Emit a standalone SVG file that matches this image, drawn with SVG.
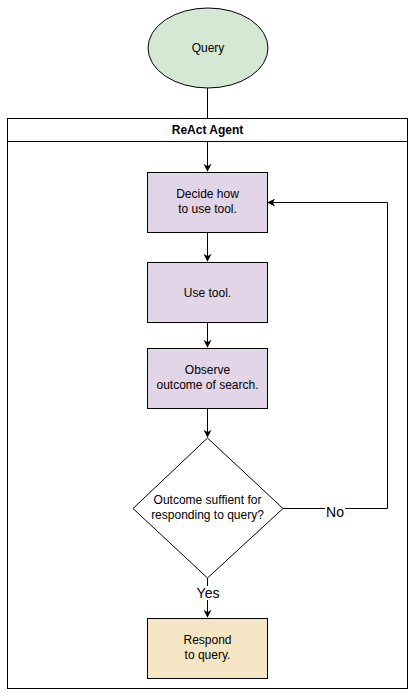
<svg xmlns="http://www.w3.org/2000/svg" width="415" height="696" viewBox="0 0 415 696">
<style>
text{font-family:"Liberation Sans",Arial,sans-serif;font-size:12px;fill:#000;text-anchor:middle}
.b{font-weight:bold}
.lbl{font-size:14px}
.n{stroke:#000;stroke-width:1}
.c{fill:none;stroke:#000;stroke-width:1}
</style>
<defs>
<marker id="a" viewBox="0 0 10 10" refX="9" refY="5" markerWidth="8" markerHeight="8" markerUnits="userSpaceOnUse" orient="auto">
<path d="M0,0 L10,5 L0,10 L3,5 Z" fill="#000"/>
</marker>
</defs>
<rect width="415" height="696" fill="#fff"/>
<g id="query"><ellipse class="n" cx="208" cy="48" rx="60" ry="40" fill="#d5e8d4"/><text x="208" y="52">Query</text></g>
<g id="agent"><rect class="n" x="7.5" y="118.5" width="400" height="570" fill="#fff"/><line class="n" x1="7.5" y1="141.5" x2="407.5" y2="141.5"/><text class="b" x="207.5" y="134">ReAct Agent</text></g>
<g id="connectors">
<line class="c" x1="207.5" y1="88" x2="207.5" y2="118"/>
<line class="c" x1="207.5" y1="141.5" x2="207.5" y2="171" marker-end="url(#a)"/>
<line class="c" x1="207.5" y1="232" x2="207.5" y2="261" marker-end="url(#a)"/>
<line class="c" x1="207.5" y1="322" x2="207.5" y2="347" marker-end="url(#a)"/>
<line class="c" x1="207.5" y1="408" x2="207.5" y2="437" marker-end="url(#a)"/>
<polyline class="c" points="283,508.5 387.5,508.5 387.5,202.5 268,202.5" marker-end="url(#a)"/>
<line class="c" x1="207.5" y1="578" x2="207.5" y2="617" marker-end="url(#a)"/>
<rect x="325" y="502" width="20" height="14" fill="#fff"/>
<text class="lbl" x="335" y="517">No</text>
<rect x="194" y="586" width="28" height="14" fill="#fff"/>
<text class="lbl" x="208" y="598">Yes</text>
</g>
<g id="decide"><rect class="n" x="147.5" y="172.5" width="120" height="60" fill="#e1d5e7"/><text x="207.5" y="198">Decide how</text><text x="207.5" y="213">to use tool.</text></g>
<g id="use"><rect class="n" x="147.5" y="262.5" width="120" height="60" fill="#e1d5e7"/><text x="207.5" y="297">Use tool.</text></g>
<g id="observe"><rect class="n" x="147.5" y="348.5" width="120" height="60" fill="#e1d5e7"/><text x="207.5" y="374">Observe</text><text x="207.5" y="389">outcome of search.</text></g>
<g id="decision"><polygon class="n" points="207.5,438 283,508.5 207.5,578 133,508.5" fill="#fff"/><text x="207.5" y="504">Outcome suffient for</text><text x="207.5" y="519">responding to query?</text></g>
<g id="respond"><rect class="n" x="147.5" y="618.5" width="120" height="60" fill="#f5e6c6"/><text x="207.5" y="644">Respond</text><text x="207.5" y="659">to query.</text></g>
</svg>
